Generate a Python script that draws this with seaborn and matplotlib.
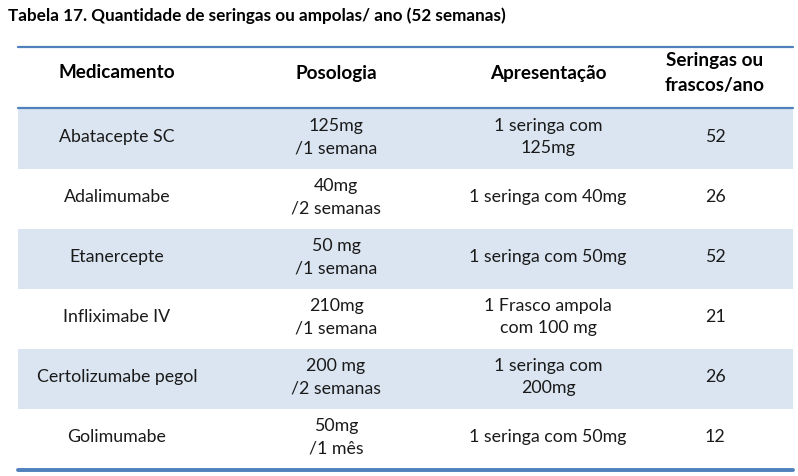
import matplotlib
matplotlib.use("Agg")
import matplotlib.pyplot as plt
import seaborn as sns

sns.set_theme(style="white")
plt.rcParams['font.family'] = ['Lato', 'DejaVu Sans']

title = "Tabela 17. Quantidade de seringas ou ampolas/ ano (52 semanas)"
headers = ["Medicamento", "Posologia", "Apresentação", "Seringas ou\nfrascos/ano"]
medicamentos = ["Abatacepte SC", "Adalimumabe", "Etanercepte", "Infliximabe IV",
                "Certolizumabe pegol", "Golimumabe"]
posologia = ["125mg\n/1 semana", "40mg\n/2 semanas", "50 mg\n/1 semana",
             "210mg\n/1 semana", "200 mg\n/2 semanas", "50mg\n/1 mês"]
apresentacao = ["1 seringa com\n125mg", "1 seringa com 40mg", "1 seringa com 50mg",
                "1 Frasco ampola\ncom 100 mg", "1 seringa com\n200mg", "1 seringa com 50mg"]
seringas_ano = [52, 26, 52, 21, 26, 12]

W, H = 798, 477
fig = plt.figure(figsize=(W / 100, H / 100), dpi=100)
ax = fig.add_axes([0, 0, 1, 1])
ax.set_xlim(0, W)
ax.set_ylim(H, 0)
ax.axis("off")

left, right = 18, 793
col_x = [117, 336, 548, 715]
header_top, header_bot = 48, 109
row_h = 60
row0 = 110
line_col = "#4f81bd"
shade = "#dbe5f1"
txt_col = "#1a1a1a"
fs = 12.8

ax.text(8, 16, title, fontsize=12.3, fontweight="bold", ha="left", va="center", color="#000000")

for i in range(len(medicamentos)):
    y0 = row0 + i * row_h
    if i % 2 == 0:
        ax.fill_between([left, right], y0, y0 + row_h, color=shade, linewidth=0)
    yc = y0 + row_h / 2 - 3
    vals = [medicamentos[i], posologia[i], apresentacao[i], str(seringas_ano[i])]
    for x, v in zip(col_x, vals):
        ax.text(x, yc, v, fontsize=fs, ha="center", va="center", color=txt_col,
                linespacing=1.5)

hy = 73
for x, h in zip(col_x, headers):
    ax.text(x, hy, h, fontsize=13.6, fontweight="bold", ha="center", va="center",
            color="#000000", linespacing=1.55)

ax.plot([left, right], [header_top, header_top], color=line_col, linewidth=1.6)
ax.plot([left, right], [header_bot, header_bot], color=line_col, linewidth=1.6)
bottom = row0 + len(medicamentos) * row_h
ax.plot([left, right], [bottom + 0.5, bottom + 0.5], color=line_col, linewidth=2.8)

fig.savefig("out.png", dpi=100, facecolor="white")
